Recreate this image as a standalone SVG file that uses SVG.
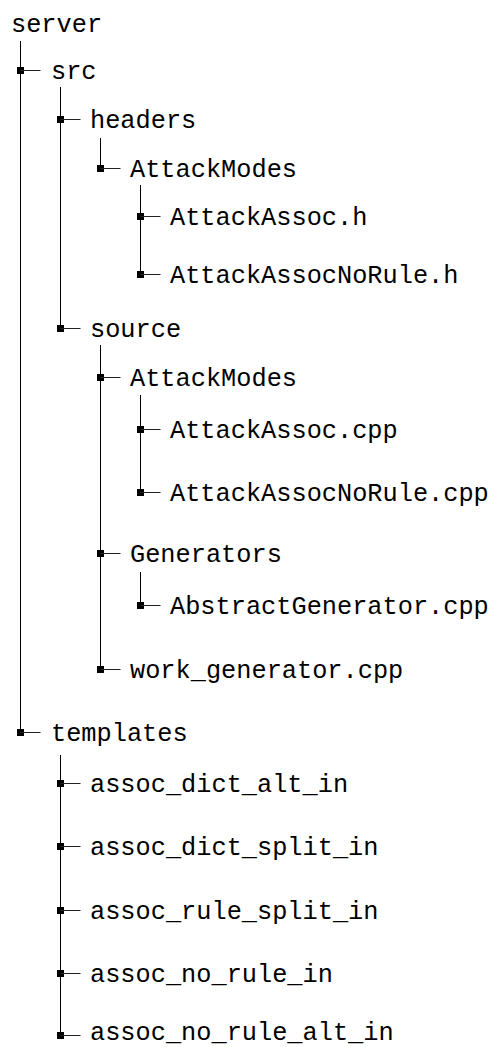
<svg xmlns="http://www.w3.org/2000/svg" width="495" height="1047" viewBox="0 0 495 1047">
  <defs>
    <style>
      .lbl { font-family: "Liberation Mono", "DejaVu Sans Mono", monospace; font-size: 25.3px; fill: #000; }
      .trunk { stroke: #000; stroke-width: 1; fill: none; }
      .tick { stroke: #222; stroke-width: 1; fill: none; }
      .dot { fill: #000; }
    </style>
    <!-- branch marker: a small square on the trunk plus a short stub to the label -->
    <g id="branch">
      <rect class="dot" x="-3.5" y="-3.5" width="7" height="7"/>
      <line class="tick" x1="0" y1="0" x2="20" y2="0"/>
    </g>
  </defs>
  <rect width="495" height="1047" fill="#fff"/>

  <!-- vertical trunks and branch markers -->
  <g id="connectors">
    <line class="trunk" x1="20.5" y1="41" x2="20.5" y2="732.5"/>
    <line class="trunk" x1="60.5" y1="87" x2="60.5" y2="328.5"/>
    <line class="trunk" x1="100.5" y1="138" x2="100.5" y2="168.5"/>
    <line class="trunk" x1="140.5" y1="185" x2="140.5" y2="274.5"/>
    <line class="trunk" x1="100.5" y1="345" x2="100.5" y2="669.5"/>
    <line class="trunk" x1="140.5" y1="395" x2="140.5" y2="492.5"/>
    <line class="trunk" x1="140.5" y1="572" x2="140.5" y2="605.5"/>
    <line class="trunk" x1="60.5" y1="755" x2="60.5" y2="1035.5"/>

    <use href="#branch" x="20.5" y="70.5"/>
    <use href="#branch" x="60.5" y="119.5"/>
    <use href="#branch" x="100.5" y="168.5"/>
    <use href="#branch" x="140.5" y="216.5"/>
    <use href="#branch" x="140.5" y="274.5"/>
    <use href="#branch" x="60.5" y="328.5"/>
    <use href="#branch" x="100.5" y="377.5"/>
    <use href="#branch" x="140.5" y="429.5"/>
    <use href="#branch" x="140.5" y="492.5"/>
    <use href="#branch" x="100.5" y="553.5"/>
    <use href="#branch" x="140.5" y="605.5"/>
    <use href="#branch" x="100.5" y="669.5"/>
    <use href="#branch" x="20.5" y="732.5"/>
    <use href="#branch" x="60.5" y="783.5"/>
    <use href="#branch" x="60.5" y="846.5"/>
    <use href="#branch" x="60.5" y="910.5"/>
    <use href="#branch" x="60.5" y="973.5"/>
    <use href="#branch" x="60.5" y="1035.5"/>
  </g>

  <!-- tree entries -->
  <g id="n-server"><text class="lbl" x="11" y="32">server</text></g>
  <g id="n-src"><text class="lbl" x="51" y="79">src</text></g>
  <g id="n-headers"><text class="lbl" x="90" y="128">headers</text></g>
  <g id="n-headers-attackmodes"><text class="lbl" x="130" y="177">AttackModes</text></g>
  <g id="n-attackassoc-h"><text class="lbl" x="170" y="225">AttackAssoc.h</text></g>
  <g id="n-attackassocnorule-h"><text class="lbl" x="170" y="283">AttackAssocNoRule.h</text></g>
  <g id="n-source"><text class="lbl" x="90" y="337">source</text></g>
  <g id="n-source-attackmodes"><text class="lbl" x="130" y="386">AttackModes</text></g>
  <g id="n-attackassoc-cpp"><text class="lbl" x="170" y="438">AttackAssoc.cpp</text></g>
  <g id="n-attackassocnorule-cpp"><text class="lbl" x="170" y="501">AttackAssocNoRule.cpp</text></g>
  <g id="n-generators"><text class="lbl" x="130" y="562">Generators</text></g>
  <g id="n-abstractgenerator"><text class="lbl" x="170" y="614">AbstractGenerator.cpp</text></g>
  <g id="n-work-generator"><text class="lbl" x="130" y="678">work_generator.cpp</text></g>
  <g id="n-templates"><text class="lbl" x="51" y="741">templates</text></g>
  <g id="n-assoc-dict-alt-in"><text class="lbl" x="90" y="792">assoc_dict_alt_in</text></g>
  <g id="n-assoc-dict-split-in"><text class="lbl" x="90" y="855">assoc_dict_split_in</text></g>
  <g id="n-assoc-rule-split-in"><text class="lbl" x="90" y="919">assoc_rule_split_in</text></g>
  <g id="n-assoc-no-rule-in"><text class="lbl" x="90" y="982">assoc_no_rule_in</text></g>
  <g id="n-assoc-no-rule-alt-in"><text class="lbl" x="90" y="1040">assoc_no_rule_alt_in</text></g>
</svg>
